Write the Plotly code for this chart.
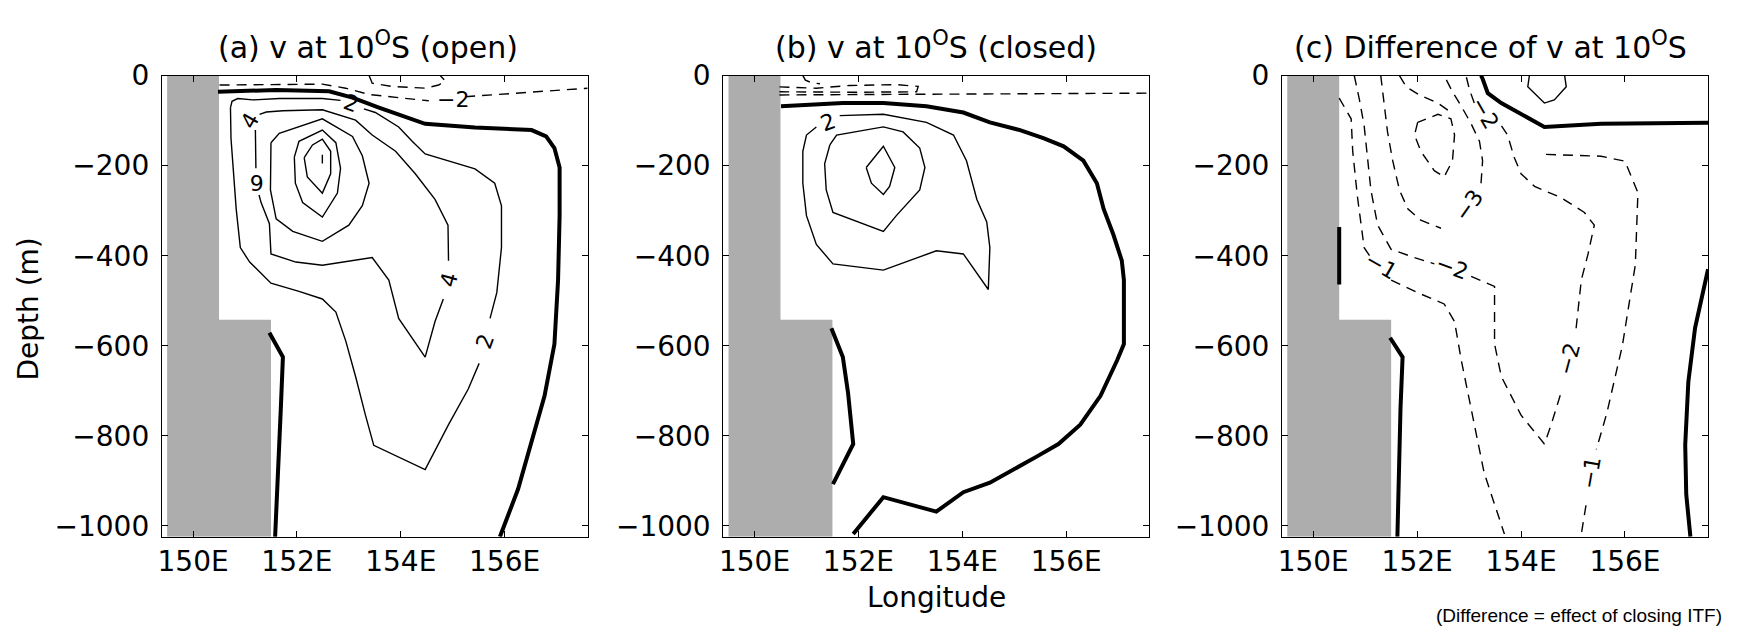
import plotly.graph_objects as go

# ---------------- data (lon in degrees E, depth in m) ----------------
land_lon = [149.5, 150.5, 150.5, 151.5, 151.5, 149.5, 149.5]
land_dep = [0, 0, -542, -542, -1024, -1024, 0]

lon_ticks = [150, 152, 154, 156]
lon_ticktext = ["150E", "152E", "154E", "156E"]
dep_ticks = [0, -200, -400, -600, -800, -1000]

# ---- panel (a) open ----
a_zero1_lon = [150.48, 151.60, 152.62, 153.07, 153.58, 154.15, 154.47, 155.43, 156.52, 156.80, 156.96, 157.06, 157.06, 157.03, 156.96, 156.77, 156.52, 156.26, 155.91]
a_zero1_dep = [-36, -32, -35, -49, -71, -93, -107, -115, -121, -135, -161, -204, -311, -454, -596, -711, -811, -918, -1024]
a_zero2_lon = [151.47, 151.73, 151.69, 151.63, 151.58]
a_zero2_dep = [-571, -625, -739, -882, -1024]
a_neg2_lon = [150.51, 152.49, 152.94, 153.39, 153.96, 154.54, None, 155.24, 156.71, 157.6]
a_neg2_dep = [-21, -19, -28, -42, -49, -56, None, -47, -35, -28]
a_neg4_lon = [153.39, 153.45, 153.83, 154.47, 154.73, 154.86, 154.76]
a_neg4_dep = [0, -17, -24, -28, -21, -12, 0]
a_c2_lon = [150.72, 150.75, 150.86, 151.15, 151.66, 152.49, 152.84, None, 153.29, 153.51, 153.96, 154.22, 154.47, 154.92, 155.43, 155.81, 155.94, 155.94, 155.85, 155.72, None, 155.51, 155.30, 154.92, 154.47, 153.48, 153.32, 153.13, 152.94, 152.75, 152.49, 152.04, 151.50, 151.09, 150.91, 150.83, 150.77, 150.73, 150.72]
a_c2_dep = [-71, -57, -51, -54, -51, -51, -55, None, -74, -82, -114, -146, -174, -189, -207, -239, -289, -382, -482, -539, None, -639, -696, -775, -875, -821, -754, -668, -589, -525, -496, -479, -461, -414, -382, -296, -204, -139, -71]
a_c4_lon = [151.20, 151.20, 151.21, None, 151.27, 151.31, 151.47, 151.50, 151.98, 152.49, 153.45, 153.77, 153.96, 154.47, 154.66, 154.82, None, 154.92, 154.91, 154.66, 154.28, 153.90, 153.45, 153.13, 152.49, 151.73, 151.41, 151.28]
a_c4_dep = [-121, -168, -206, None, -265, -282, -329, -396, -414, -421, -404, -454, -539, -625, -546, -496, None, -411, -332, -275, -218, -168, -132, -99, -76, -78, -81, -86]
a_c6_lon = [151.50, 151.66, 152.49, 153.07, 153.26, 153.39, 153.26, 153.00, 152.49, 151.92, 151.60, 151.49, 151.50]
a_c6_dep = [-149, -128, -96, -135, -178, -239, -289, -332, -368, -346, -318, -254, -149]
a_c8_lon = [151.95, 152.04, 152.49, 152.75, 152.84, 152.78, 152.49, 152.11, 151.97, 151.95]
a_c8_dep = [-181, -146, -121, -149, -206, -261, -314, -282, -239, -181]
a_c10_lon = [152.14, 152.30, 152.49, 152.65, 152.65, 152.49, 152.20, 152.14]
a_c10_dep = [-182, -154, -141, -168, -218, -261, -225, -182]
a_core_lon = [152.49, 152.49]
a_core_dep = [-176, -195]
a_lab_text = ["2", "2", "4", "4", "6", "-2"]
a_lab_lon = [153.05, 155.62, 151.10, 154.92, 151.22, 155.0]
a_lab_dep = [-63, -590, -100, -454, -236, -52]
a_lab_ang = [20, -70, -60, -75, 180, 0]

# ---- panel (b) closed ----
b_zero1_lon = [150.51, 151.70, 152.48, 153.31, 154.02, 154.53, 155.11, 155.56, 155.95, 156.33, 156.59, 156.72, 156.91, 157.07, 157.11, 157.11, 156.98, 156.66, 156.27, 155.85, 155.43, 154.53, 154.02, 153.50, 152.48, 151.90]
b_zero1_dep = [-68, -61, -61, -68, -82, -104, -121, -139, -157, -189, -239, -296, -354, -411, -454, -596, -632, -711, -775, -818, -846, -904, -925, -968, -936, -1018]
b_zero2_lon = [151.48, 151.70, 151.80, 151.90, 151.51]
b_zero2_dep = [-561, -625, -704, -818, -907]
b_dA_lon = [150.48, 151.19, 151.83, 152.73, 153.15, 153.12, 152.0, 150.48]
b_dA_dep = [-25, -28, -22, -20, -24, -36, -37, -36]
b_dC_lon = [150.48, 152.0, 154.0, 157.6]
b_dC_dep = [-43, -42, -40, -39]
b_dD_lon = [150.93, 150.98, 151.10, 151.26]
b_dD_dep = [0, -10, -16, -18]
b_c2_lon = [151.64, 152.48, 153.31, 153.83, 154.08, 154.28, 154.47, 154.53, 154.50, 154.02, 153.50, 152.48, 151.51, 151.19, 151.00, 150.93, 150.93, 151.00, 151.19]
b_c2_dep = [-89, -86, -104, -132, -189, -275, -325, -382, -475, -396, -389, -432, -418, -375, -311, -239, -168, -132, -114]
b_c4_lon = [151.45, 151.58, 152.48, 152.86, 153.18, 153.28, 153.18, 152.73, 152.48, 151.51, 151.38, 151.35, 151.45]
b_c4_dep = [-154, -132, -114, -125, -161, -204, -254, -311, -346, -304, -254, -196, -154]
b_c6_lon = [152.15, 152.48, 152.70, 152.60, 152.48, 152.25, 152.15]
b_c6_dep = [-204, -157, -204, -246, -264, -239, -204]
b_lab_text = ["2"]
b_lab_lon = [151.41]
b_lab_dep = [-104]
b_lab_ang = [-20]

# ---- panel (c) difference ----
c_zero_bar_lon = [150.50, 150.50]
c_zero_bar_dep = [-336, -464]
c_zero_coast_lon = [151.48, 151.72, 151.68, 151.62]
c_zero_coast_dep = [-582, -625, -739, -1024]
c_zero_top_lon = [153.23, 153.26, 153.36, 153.62, 154.45, 155.54, 157.6]
c_zero_top_dep = [0, -7, -39, -61, -114, -107, -105]
c_zero_right_lon = [157.6, 157.5, 157.35, 157.22, 157.16, 157.18, 157.26]
c_zero_right_dep = [-430, -480, -560, -680, -820, -930, -1024]
c_pos_lon = [154.16, 154.13, 154.45, 154.64, 154.87, 154.84]
c_pos_dep = [0, -25, -61, -54, -25, 0]
c_neg1a_lon = [150.50, 150.73, 150.76, 150.85, 150.98, 151.11, None, 151.50, 152.01, 152.52, 152.72, 152.85, 153.04, 153.29, 153.68]
c_neg1a_dep = [-50, -96, -168, -268, -382, -404, None, -454, -482, -507, -546, -632, -739, -882, -1018]
c_neg1b_lon = [154.48, 155.54, 156.0, 156.25, 156.2, 155.95, 155.65, 155.45, None, 155.25, 155.16]
c_neg1b_dep = [-175, -179, -190, -260, -420, -600, -750, -830, None, -954, -1018]
c_neg2_lon = [150.79, 150.89, 150.98, 151.05, 151.11, 151.24, 151.50, 151.95, 152.33, None, 153.04, 153.49, 153.49, 153.62, 154.00, 154.45, 154.58, 154.77, None, 155.06, 155.16, 155.29, 155.41, 155.22, 154.77, 154.26, 154.00, 153.87, 153.74, 153.58, None, 153.10, 153.01, 152.94]
c_neg2_dep = [0, -54, -111, -182, -254, -332, -386, -404, -418, None, -446, -468, -596, -668, -754, -818, -775, -704, None, -561, -454, -396, -332, -304, -271, -246, -218, -182, -132, -104, None, -61, -32, 0]
c_neg3_lon = [151.30, 151.36, 151.43, 151.53, 151.66, 151.82, 152.07, 152.46, None, 153.23, 153.26, 153.20, 153.04, 152.85, 152.68, 152.52]
c_neg3_dep = [0, -61, -125, -189, -254, -296, -321, -339, None, -239, -189, -146, -107, -68, -36, 0]
c_neg4_lon = [152.01, 151.95, 152.07, 152.33, 152.52, 152.68, 152.72, 152.65, 152.40, 152.01]
c_neg4_dep = [-104, -132, -168, -211, -225, -189, -132, -96, -86, -104]
c_neg4b_lon = [151.66, 151.79, 152.04, 152.40, 152.62]
c_neg4b_dep = [0, -25, -43, -61, -79]
c_lab_text = ["-1", "-2", "-3", "-2", "-2", "-1"]
c_lab_lon = [151.30, 152.68, 153.0, 153.30, 154.93, 155.35]
c_lab_dep = [-421, -425, -289, -82, -629, -882]
c_lab_ang = [30, 20, -55, 60, -75, -80]

titles = ["(a) v at 10<sup>O</sup>S (open)", "(b) v at 10<sup>O</sup>S (closed)",
          "(c) Difference of v at 10<sup>O</sup>S"]
title_x_px = [365, 934, 1490]

# ---------------- figure ----------------
FONT = "DejaVu Sans"
W, H = 1739, 641
x_domains = [[158.3 / W, 585 / W], [721 / W, 1148 / W], [1281 / W, 1708 / W]]
y_domain = [1 - 539.3 / H, 1 - 61.7 / H]
XR = [149.4, 157.6]
YR = [-1024, 0]

fig = go.Figure()

THICK = dict(color="black", width=4)
THIN = dict(color="black", width=1.4)
DASH = dict(color="black", width=1.4, dash="10px,7px")


def add(ax, lon, dep, line, fill=None):
    kw = {}
    if fill:
        kw = dict(fill="toself", fillcolor=fill)
    fig.add_trace(go.Scatter(x=lon, y=dep, mode="lines", line=line,
                             xaxis="x" + ("" if ax == 1 else str(ax)),
                             yaxis="y" + ("" if ax == 1 else str(ax)),
                             hoverinfo="skip", showlegend=False, **kw))


for ax in (1, 2, 3):
    add(ax, land_lon, land_dep, dict(color="rgba(0,0,0,0)", width=0), fill="#adadad")

# panel a
add(1, a_zero1_lon, a_zero1_dep, THICK)
add(1, a_zero2_lon, a_zero2_dep, THICK)
add(1, a_neg2_lon, a_neg2_dep, DASH)
add(1, a_neg4_lon, a_neg4_dep, DASH)
for lo, de in [(a_c2_lon, a_c2_dep), (a_c4_lon, a_c4_dep), (a_c6_lon, a_c6_dep),
               (a_c8_lon, a_c8_dep), (a_c10_lon, a_c10_dep), (a_core_lon, a_core_dep)]:
    add(1, lo, de, THIN)

# panel b
add(2, b_zero1_lon, b_zero1_dep, THICK)
add(2, b_zero2_lon, b_zero2_dep, THICK)
for lo, de in [(b_dA_lon, b_dA_dep), (b_dC_lon, b_dC_dep), (b_dD_lon, b_dD_dep)]:
    add(2, lo, de, DASH)
for lo, de in [(b_c2_lon, b_c2_dep), (b_c4_lon, b_c4_dep), (b_c6_lon, b_c6_dep)]:
    add(2, lo, de, THIN)

# panel c
for lo, de in [(c_zero_bar_lon, c_zero_bar_dep), (c_zero_coast_lon, c_zero_coast_dep),
               (c_zero_top_lon, c_zero_top_dep), (c_zero_right_lon, c_zero_right_dep)]:
    add(3, lo, de, THICK)
add(3, c_pos_lon, c_pos_dep, THIN)
for lo, de in [(c_neg1a_lon, c_neg1a_dep), (c_neg1b_lon, c_neg1b_dep), (c_neg2_lon, c_neg2_dep),
               (c_neg3_lon, c_neg3_dep), (c_neg4_lon, c_neg4_dep), (c_neg4b_lon, c_neg4b_dep)]:
    add(3, lo, de, DASH)

annotations = []
for ax, texts, lons, deps, angs in [(1, a_lab_text, a_lab_lon, a_lab_dep, a_lab_ang),
                                    (2, b_lab_text, b_lab_lon, b_lab_dep, b_lab_ang),
                                    (3, c_lab_text, c_lab_lon, c_lab_dep, c_lab_ang)]:
    sfx = "" if ax == 1 else str(ax)
    for t, lo, de, an in zip(texts, lons, deps, angs):
        annotations.append(dict(text=t.replace("-", "\u2212"), x=lo, y=de, xref="x" + sfx, yref="y" + sfx,
                                showarrow=False, textangle=an,
                                font=dict(family=FONT, size=22, color="black")))

for i, t in enumerate(titles):
    annotations.append(dict(text=t, x=title_x_px[i] / W, y=1 - 31 / H, xref="paper", yref="paper",
                            showarrow=False, xanchor="center", yanchor="middle",
                            font=dict(family=FONT, size=30, color="black")))
annotations.append(dict(text="Depth (m)", x=25 / W, y=1 - 303 / H, xref="paper", yref="paper",
                        showarrow=False, textangle=-90, xanchor="center", yanchor="middle",
                        font=dict(family=FONT, size=28, color="black")))
annotations.append(dict(text="Longitude", x=sum(x_domains[1]) / 2, y=1 - 602 / H, xref="paper", yref="paper",
                        showarrow=False, xanchor="center", yanchor="middle",
                        font=dict(family=FONT, size=28, color="black")))
annotations.append(dict(text="(Difference = effect of closing ITF)", x=1724 / W, y=1 - 621 / H,
                        xref="paper", yref="paper", showarrow=False, xanchor="right", yanchor="middle",
                        font=dict(family="Liberation Sans, Arial", size=19, color="black")))

layout = dict(width=W, height=H, margin=dict(l=0, r=0, t=0, b=0),
              paper_bgcolor="white", plot_bgcolor="white", showlegend=False,
              annotations=annotations)
for i in range(3):
    sfx = "" if i == 0 else str(i + 1)
    layout["xaxis" + sfx] = dict(domain=x_domains[i], range=XR, anchor="y" + sfx,
                                 tickvals=lon_ticks, ticktext=lon_ticktext,
                                 ticks="inside", ticklen=6, tickcolor="black",
                                 showline=True, linecolor="black", linewidth=1.2, mirror="ticks",
                                 showgrid=False, zeroline=False, ticklabelstandoff=0,
                                 tickfont=dict(family=FONT, size=28, color="black"))
    layout["yaxis" + sfx] = dict(domain=y_domain, range=YR, anchor="x" + sfx,
                                 tickvals=dep_ticks,
                                 ticks="inside", ticklen=6, tickcolor="black",
                                 showline=True, linecolor="black", linewidth=1.2, mirror="ticks",
                                 showgrid=False, zeroline=False, ticklabelstandoff=6,
                                 tickfont=dict(family=FONT, size=28, color="black"))
fig.update_layout(**layout)
fig.write_html("out.html")
